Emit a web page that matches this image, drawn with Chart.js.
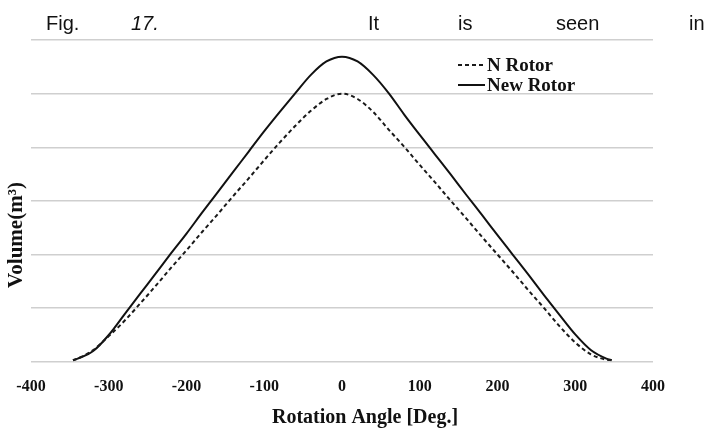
<!DOCTYPE html>
<html>
<head>
<meta charset="utf-8">
<script src="https://cdn.jsdelivr.net/npm/chart.js@4/dist/chart.umd.min.js"></script>
<style>
  body { margin: 0; background: #fff; }
  #wrap { position: relative; width: 708px; height: 431px; }
  #fig { position: absolute; top: 11px; left: 0; width: 708px; height: 24px;
         font: 20px "Liberation Sans", Arial, sans-serif; line-height: 24px; color: #111; }
  #fig span { position: absolute; top: 0; }
  canvas { position: absolute; left: 0; top: 0; }
</style>
</head>
<body>
<div id="wrap">
  <canvas id="volumeChart" width="708" height="431"></canvas>
  <div id="fig">
    <span style="left:46px">Fig.</span>
    <span style="left:131px;font-style:italic">17.</span>
    <span style="left:368px">It</span>
    <span style="left:458px">is</span>
    <span style="left:556px">seen</span>
    <span style="left:689px">in</span>
  </div>
</div>
<script>
// values (y axis has no labels, so unit = one gridline)
const angles = [-346, -340, -320, -300, -280, -260, -240, -220, -200, -180, -160, -140, -120, -100, -80, -60, -40, -20, 0,
                20, 40, 60, 80, 100, 120, 140, 160, 180, 200, 220, 240, 260, 280, 300, 320, 340, 347];

const nRotorVolume = [0.03, 0.06, 0.22, 0.48, 0.76, 1.08, 1.41, 1.75, 2.08, 2.42, 2.75, 3.09, 3.42, 3.76, 4.09, 4.40, 4.68, 4.90, 5.00,
                      4.90, 4.66, 4.33, 4.01, 3.67, 3.34, 3.00, 2.67, 2.33, 2.00, 1.67, 1.33, 1.00, 0.66, 0.36, 0.14, 0.04, 0.03];

const newRotorVolume = [0.03, 0.06, 0.20, 0.50, 0.88, 1.26, 1.64, 2.02, 2.39, 2.78, 3.16, 3.54, 3.92, 4.30, 4.66, 5.01, 5.35, 5.60, 5.69,
                        5.60, 5.35, 5.01, 4.61, 4.23, 3.86, 3.49, 3.11, 2.74, 2.36, 1.99, 1.62, 1.24, 0.87, 0.51, 0.22, 0.06, 0.03];

const seriesNames = ['N Rotor', 'New Rotor'];
const xTitle = 'Rotation Angle [Deg.]';
const yTitle = 'Volume(m\u00b3)';

function toPoints(xs, ys) {
    return xs.map((x, i) => ({ x: x, y: ys[i] }));
}

const serif = '"Liberation Serif", "Times New Roman", serif';

// legend + axis titles drawn by hand so they sit where the figure has them
const extras = {
    id: 'extras',
    afterDraw(chart) {
        const ctx = chart.ctx;
        const area = chart.chartArea;
        ctx.save();
        ctx.fillStyle = '#111';
        ctx.font = 'bold 20px ' + serif;
        ctx.textAlign = 'center';
        ctx.textBaseline = 'alphabetic';
        ctx.fillText(xTitle, (area.left + area.right) / 2 + 23, 423);

        ctx.save();
        ctx.translate(17, 235);
        ctx.rotate(-Math.PI / 2);
        ctx.textBaseline = 'middle';
        ctx.font = 'bold 21px ' + serif;
        ctx.fillText(yTitle, 0, 0);
        ctx.restore();

        // legend
        const lx = 458, ly = [65, 85];
        chart.data.datasets.forEach((ds, i) => {
            ctx.strokeStyle = ds.borderColor;
            ctx.lineWidth = 2;
            ctx.setLineDash(ds.borderDash || []);
            ctx.beginPath();
            ctx.moveTo(lx, ly[i]);
            ctx.lineTo(lx + 27, ly[i]);
            ctx.stroke();
            ctx.setLineDash([]);
            ctx.font = 'bold 19px ' + serif;
            ctx.textAlign = 'left';
            ctx.textBaseline = 'middle';
            ctx.fillText(ds.label, lx + 29, ly[i] + 1);
        });
        ctx.restore();
    }
};

new Chart(document.getElementById('volumeChart').getContext('2d'), {
    type: 'line',
    data: {
        datasets: [{
            label: seriesNames[0],
            data: toPoints(angles, nRotorVolume),
            borderColor: '#1a1a1a',
            borderWidth: 2,
            borderDash: [4, 3],
            pointRadius: 0,
            fill: false,
            cubicInterpolationMode: 'monotone'
        }, {
            label: seriesNames[1],
            data: toPoints(angles, newRotorVolume),
            borderColor: '#111',
            borderWidth: 2,
            pointRadius: 0,
            fill: false,
            cubicInterpolationMode: 'monotone'
        }]
    },
    options: {
        responsive: false,
        animation: false,
        layout: { padding: { left: 31, right: 55, top: 40, bottom: 20 } },
        plugins: {
            legend: { display: false },
            tooltip: { enabled: false }
        },
        scales: {
            x: {
                type: 'linear',
                min: -400,
                max: 400,
                ticks: {
                    stepSize: 100,
                    padding: 15,
                    color: '#111',
                    font: { family: serif, size: 16, weight: 'bold' }
                },
                grid: { display: false, drawTicks: false },
                border: { display: false }
            },
            y: {
                min: 0,
                max: 6,
                ticks: { display: false, stepSize: 1 },
                grid: { color: '#cfcfcf', lineWidth: 1.5, drawTicks: false },
                border: { display: false }
            }
        }
    },
    plugins: [extras]
});
</script>
</body>
</html>
